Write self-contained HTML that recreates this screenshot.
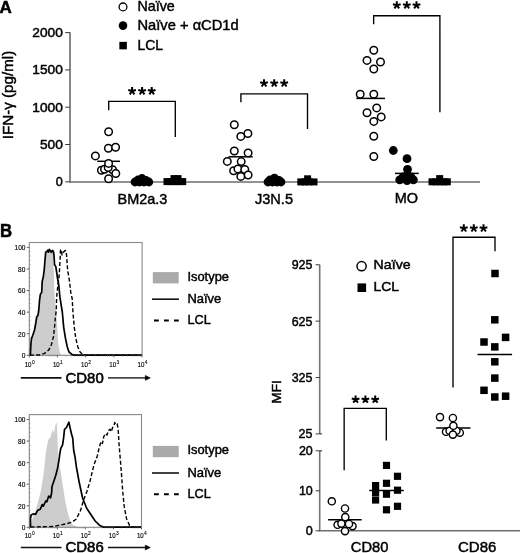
<!DOCTYPE html><html><head><meta charset="utf-8"><style>html,body{margin:0;padding:0;background:#fff;overflow:hidden}svg{display:block}text{font-family:"Liberation Sans",sans-serif;fill:#000;stroke:#000;stroke-width:0.45px}svg{will-change:transform}</style></head><body>
<svg width="520" height="553" viewBox="0 0 520 553">
<text x="-0.5" y="12.7" font-size="17" text-anchor="start" font-weight="bold" style="stroke-width:0.5px">A</text>
<text transform="translate(13.1,139.2) rotate(-90)" font-size="15.2" textLength="88.4" lengthAdjust="spacingAndGlyphs">IFN-γ (pg/ml)</text>
<line x1="70" y1="32.2" x2="70" y2="182.5" stroke="#737373" stroke-width="1.7"/>
<line x1="65.2" y1="32.60000000000002" x2="70" y2="32.60000000000002" stroke="#3a3a3a" stroke-width="1.0"/>
<text x="62.8" y="37.00000000000002" font-size="12.6" text-anchor="end" font-weight="normal" textLength="30.5" lengthAdjust="spacingAndGlyphs">2000</text>
<line x1="65.2" y1="69.9" x2="70" y2="69.9" stroke="#3a3a3a" stroke-width="1.0"/>
<text x="62.8" y="74.30000000000001" font-size="12.6" text-anchor="end" font-weight="normal" textLength="30.5" lengthAdjust="spacingAndGlyphs">1500</text>
<line x1="65.2" y1="107.20000000000002" x2="70" y2="107.20000000000002" stroke="#3a3a3a" stroke-width="1.0"/>
<text x="62.8" y="111.60000000000002" font-size="12.6" text-anchor="end" font-weight="normal" textLength="30.5" lengthAdjust="spacingAndGlyphs">1000</text>
<line x1="65.2" y1="144.5" x2="70" y2="144.5" stroke="#3a3a3a" stroke-width="1.0"/>
<text x="62.8" y="148.9" font-size="12.6" text-anchor="end" font-weight="normal" textLength="22.9" lengthAdjust="spacingAndGlyphs">500</text>
<line x1="65.2" y1="181.8" x2="70" y2="181.8" stroke="#3a3a3a" stroke-width="1.0"/>
<text x="62.8" y="186.20000000000002" font-size="12.6" text-anchor="end" font-weight="normal">0</text>
<line x1="69.1" y1="182" x2="480" y2="182" stroke="#6e6e6e" stroke-width="1.6"/>
<circle cx="123" cy="6.9" r="3.9" fill="#fff" stroke="#000" stroke-width="1.3"/>
<text x="137.5" y="10.8" font-size="14.3" text-anchor="start" font-weight="normal" textLength="37.3" lengthAdjust="spacingAndGlyphs">Naïve</text>
<circle cx="123" cy="25.6" r="4.3" fill="#000"/>
<text x="137.5" y="29.5" font-size="14.3" text-anchor="start" font-weight="normal" textLength="101.2" lengthAdjust="spacingAndGlyphs">Naïve + αCD1d</text>
<rect x="119.35" y="41.85" width="7.5" height="7.5" fill="#000"/>
<text x="137.5" y="49.5" font-size="14.3" text-anchor="start" font-weight="normal" textLength="25.5" lengthAdjust="spacingAndGlyphs">LCL</text>
<polyline points="108.7,110.3 108.7,101.3 175.3,101.3 175.3,136.9" fill="none" stroke="#000" stroke-width="1.35"/>
<path d="M132.10,91.03 L132.10,87.00 M132.10,91.03 L135.95,90.07 M132.10,91.03 L134.47,94.30 M132.10,91.03 L129.73,94.30 M132.10,91.03 L128.25,90.07" stroke="#000" stroke-width="2.0" fill="none"/>
<path d="M142.10,91.03 L142.10,87.00 M142.10,91.03 L145.95,90.07 M142.10,91.03 L144.47,94.30 M142.10,91.03 L139.73,94.30 M142.10,91.03 L138.25,90.07" stroke="#000" stroke-width="2.0" fill="none"/>
<path d="M151.70,91.03 L151.70,87.00 M151.70,91.03 L155.55,90.07 M151.70,91.03 L154.07,94.30 M151.70,91.03 L149.33,94.30 M151.70,91.03 L147.85,90.07" stroke="#000" stroke-width="2.0" fill="none"/>
<polyline points="240.9,102.3 240.9,93.9 307.5,93.9 307.5,129.1" fill="none" stroke="#000" stroke-width="1.35"/>
<path d="M264.00,83.23 L264.00,79.20 M264.00,83.23 L267.85,82.27 M264.00,83.23 L266.37,86.50 M264.00,83.23 L261.63,86.50 M264.00,83.23 L260.15,82.27" stroke="#000" stroke-width="2.0" fill="none"/>
<path d="M274.20,83.23 L274.20,79.20 M274.20,83.23 L278.05,82.27 M274.20,83.23 L276.57,86.50 M274.20,83.23 L271.83,86.50 M274.20,83.23 L270.35,82.27" stroke="#000" stroke-width="2.0" fill="none"/>
<path d="M284.20,83.23 L284.20,79.20 M284.20,83.23 L288.05,82.27 M284.20,83.23 L286.57,86.50 M284.20,83.23 L281.83,86.50 M284.20,83.23 L280.35,82.27" stroke="#000" stroke-width="2.0" fill="none"/>
<polyline points="373.65,24.15 373.65,15.7 439.9,15.7 439.9,112.2" fill="none" stroke="#000" stroke-width="1.35"/>
<path d="M396.80,5.18 L396.80,1.15 M396.80,5.18 L400.65,4.22 M396.80,5.18 L399.17,8.45 M396.80,5.18 L394.43,8.45 M396.80,5.18 L392.95,4.22" stroke="#000" stroke-width="2.0" fill="none"/>
<path d="M406.80,5.18 L406.80,1.15 M406.80,5.18 L410.65,4.22 M406.80,5.18 L409.17,8.45 M406.80,5.18 L404.43,8.45 M406.80,5.18 L402.95,4.22" stroke="#000" stroke-width="2.0" fill="none"/>
<path d="M416.50,5.18 L416.50,1.15 M416.50,5.18 L420.35,4.22 M416.50,5.18 L418.87,8.45 M416.50,5.18 L414.13,8.45 M416.50,5.18 L412.65,4.22" stroke="#000" stroke-width="2.0" fill="none"/>
<line x1="97.2" y1="161.3" x2="120" y2="161.3" stroke="#000" stroke-width="1.5"/>
<circle cx="108.6" cy="131.7" r="3.75" fill="#fff" stroke="#000" stroke-width="1.5"/>
<circle cx="108.4" cy="148.3" r="3.75" fill="#fff" stroke="#000" stroke-width="1.5"/>
<circle cx="115.6" cy="147.2" r="3.75" fill="#fff" stroke="#000" stroke-width="1.5"/>
<circle cx="95.4" cy="155.9" r="3.75" fill="#fff" stroke="#000" stroke-width="1.5"/>
<circle cx="101.4" cy="170.3" r="3.75" fill="#fff" stroke="#000" stroke-width="1.5"/>
<circle cx="104.5" cy="169.2" r="3.75" fill="#fff" stroke="#000" stroke-width="1.5"/>
<circle cx="112.6" cy="169.8" r="3.75" fill="#fff" stroke="#000" stroke-width="1.5"/>
<circle cx="115.8" cy="173.5" r="3.75" fill="#fff" stroke="#000" stroke-width="1.5"/>
<circle cx="108.2" cy="167.6" r="3.75" fill="#fff" stroke="#000" stroke-width="1.5"/>
<circle cx="108.6" cy="178.7" r="3.75" fill="#fff" stroke="#000" stroke-width="1.5"/>
<circle cx="108.6" cy="163.4" r="3.75" fill="#fff" stroke="#000" stroke-width="1.5"/>
<circle cx="135" cy="182" r="4.4" fill="#000"/>
<circle cx="139.5" cy="182" r="4.4" fill="#000"/>
<circle cx="144" cy="182" r="4.4" fill="#000"/>
<circle cx="148.8" cy="182" r="4.4" fill="#000"/>
<circle cx="142" cy="178.5" r="4.4" fill="#000"/>
<circle cx="138" cy="180" r="4.4" fill="#000"/>
<circle cx="146" cy="180.5" r="4.4" fill="#000"/>
<rect x="163.5" y="178.1" width="7" height="7" fill="#000"/>
<rect x="167.5" y="178.1" width="7" height="7" fill="#000"/>
<rect x="171.5" y="178.1" width="7" height="7" fill="#000"/>
<rect x="175.5" y="178.1" width="7" height="7" fill="#000"/>
<rect x="179.2" y="178.1" width="7" height="7" fill="#000"/>
<rect x="170.5" y="175.1" width="7" height="7" fill="#000"/>
<rect x="174.5" y="175.1" width="7" height="7" fill="#000"/>
<line x1="228.5" y1="156.8" x2="252.7" y2="156.8" stroke="#000" stroke-width="1.5"/>
<circle cx="234.3" cy="124.7" r="3.75" fill="#fff" stroke="#000" stroke-width="1.5"/>
<circle cx="247.9" cy="133.5" r="3.75" fill="#fff" stroke="#000" stroke-width="1.5"/>
<circle cx="240.8" cy="136.4" r="3.75" fill="#fff" stroke="#000" stroke-width="1.5"/>
<circle cx="234.3" cy="151" r="3.75" fill="#fff" stroke="#000" stroke-width="1.5"/>
<circle cx="248.1" cy="152.9" r="3.75" fill="#fff" stroke="#000" stroke-width="1.5"/>
<circle cx="227.3" cy="161.4" r="3.75" fill="#fff" stroke="#000" stroke-width="1.5"/>
<circle cx="241.2" cy="161.6" r="3.75" fill="#fff" stroke="#000" stroke-width="1.5"/>
<circle cx="233.6" cy="170.7" r="3.75" fill="#fff" stroke="#000" stroke-width="1.5"/>
<circle cx="237.9" cy="168.9" r="3.75" fill="#fff" stroke="#000" stroke-width="1.5"/>
<circle cx="244.8" cy="169.5" r="3.75" fill="#fff" stroke="#000" stroke-width="1.5"/>
<circle cx="248.1" cy="175" r="3.75" fill="#fff" stroke="#000" stroke-width="1.5"/>
<circle cx="240.8" cy="176.4" r="3.75" fill="#fff" stroke="#000" stroke-width="1.5"/>
<circle cx="268" cy="182" r="4.4" fill="#000"/>
<circle cx="272.5" cy="182" r="4.4" fill="#000"/>
<circle cx="277" cy="182" r="4.4" fill="#000"/>
<circle cx="281" cy="182" r="4.4" fill="#000"/>
<circle cx="274.5" cy="178.2" r="4.4" fill="#000"/>
<circle cx="270" cy="180" r="4.4" fill="#000"/>
<circle cx="279" cy="180.5" r="4.4" fill="#000"/>
<rect x="297.3" y="178.4" width="7" height="7" fill="#000"/>
<rect x="301.5" y="178.4" width="7" height="7" fill="#000"/>
<rect x="305.5" y="178.4" width="7" height="7" fill="#000"/>
<rect x="310.5" y="178.4" width="7" height="7" fill="#000"/>
<rect x="304.1" y="175.3" width="7" height="7" fill="#000"/>
<line x1="356.3" y1="98.4" x2="385" y2="98.4" stroke="#000" stroke-width="1.5"/>
<circle cx="373.8" cy="50.2" r="3.75" fill="#fff" stroke="#000" stroke-width="1.5"/>
<circle cx="367" cy="60.4" r="3.75" fill="#fff" stroke="#000" stroke-width="1.5"/>
<circle cx="380.5" cy="62" r="3.75" fill="#fff" stroke="#000" stroke-width="1.5"/>
<circle cx="373.8" cy="69" r="3.75" fill="#fff" stroke="#000" stroke-width="1.5"/>
<circle cx="360.2" cy="94.3" r="3.75" fill="#fff" stroke="#000" stroke-width="1.5"/>
<circle cx="373.8" cy="94.3" r="3.75" fill="#fff" stroke="#000" stroke-width="1.5"/>
<circle cx="376.7" cy="107.9" r="3.75" fill="#fff" stroke="#000" stroke-width="1.5"/>
<circle cx="367" cy="112.8" r="3.75" fill="#fff" stroke="#000" stroke-width="1.5"/>
<circle cx="381.2" cy="116.9" r="3.75" fill="#fff" stroke="#000" stroke-width="1.5"/>
<circle cx="373.8" cy="121.4" r="3.75" fill="#fff" stroke="#000" stroke-width="1.5"/>
<circle cx="373.8" cy="136.2" r="3.75" fill="#fff" stroke="#000" stroke-width="1.5"/>
<circle cx="373.8" cy="156.5" r="3.75" fill="#fff" stroke="#000" stroke-width="1.5"/>
<circle cx="393.3" cy="150.5" r="4.4" fill="#000"/>
<circle cx="407" cy="158.7" r="4.4" fill="#000"/>
<circle cx="407.5" cy="169.3" r="4.4" fill="#000"/>
<circle cx="399.7" cy="179.8" r="4.4" fill="#000"/>
<circle cx="407" cy="180.7" r="4.4" fill="#000"/>
<circle cx="413.4" cy="179.8" r="4.4" fill="#000"/>
<circle cx="403" cy="177" r="4.4" fill="#000"/>
<circle cx="411" cy="177" r="4.4" fill="#000"/>
<circle cx="407" cy="175.5" r="4.4" fill="#000"/>
<line x1="395" y1="173.4" x2="418.8" y2="173.4" stroke="#000" stroke-width="1.5"/>
<rect x="428.5" y="178.3" width="7" height="7" fill="#000"/>
<rect x="432.5" y="178.3" width="7" height="7" fill="#000"/>
<rect x="436.5" y="178.3" width="7" height="7" fill="#000"/>
<rect x="440.5" y="178.3" width="7" height="7" fill="#000"/>
<rect x="443.8" y="178.3" width="7" height="7" fill="#000"/>
<rect x="436.2" y="175.1" width="7" height="7" fill="#000"/>
<text x="117.5" y="203.7" font-size="14.8" text-anchor="start" font-weight="normal" textLength="49.8" lengthAdjust="spacingAndGlyphs">BM2a.3</text>
<text x="255" y="203.7" font-size="14.8" text-anchor="start" font-weight="normal" textLength="38" lengthAdjust="spacingAndGlyphs">J3N.5</text>
<text x="394.7" y="203.4" font-size="14.8" text-anchor="start" font-weight="normal" textLength="23.3" lengthAdjust="spacingAndGlyphs">MO</text>
<text transform="translate(0,236.6) scale(0.93,1)" font-size="18" font-weight="bold" style="stroke-width:0.5px">B</text>
<path d="M30.5,355.3 L31.2,343 L32.8,336 L34.6,331 L36,324 L37,318 L38.5,315.5 L39.3,310 L40,301 L41,295 L42.3,292.5 L42.7,282 L43.8,276.5 L44.6,270 L45.3,260 L46,253 L47.5,252 L49.4,251 L51,252.5 L53,253 L53.5,256 L53.6,265 L54,278 L54.2,285.4 L54.9,300.8 L56,310 L57.5,330 L58.4,345 L60,353 L61.5,355.3 Z" fill="#cdcdcd" stroke="none"/>
<rect x="29.3" y="242.5" width="112.8" height="112.80000000000001" fill="none" stroke="#888" stroke-width="1.1"/>
<polyline points="30,355.2 32.3,355.1 39.3,355 44.5,353.4 48.8,349.9 51.4,344.7 53.6,336 54.5,327.4 55.3,318.7 56.3,310 56.5,301 57,293 58,285 59.2,275 59.8,265 60.2,256.5 60.5,250 61.3,249.5 62,255 63,253 64.5,251 65.5,250.5 66.3,252 67.7,270.6 69.5,281.2 70.7,291.9 72.2,298.9 73,313.1 74.3,327.3 75.7,337.9 77.8,346.7 80.1,352 82.8,354.7 86,355.2 141.5,355.2" fill="none" stroke="#000" stroke-width="1.4" stroke-dasharray="4,2.2" stroke-linejoin="round"/>
<polyline points="30.4,355.2 30.6,350 31,343 31.5,338.6 32.8,335.2 34.5,330 35.8,323 36.7,317 38,315.2 38.8,310 39.5,300.8 40.3,294.6 41.7,292.3 42.2,281.5 43.4,276.2 44.2,270 45,260 45.7,252 46.7,251.7 47.7,250.2 48.4,252.1 49.4,249.4 50.4,251.1 51.4,252.4 52.4,250.4 53.5,251.7 54.1,256.5 54.5,264.5 55.8,266.6 56.5,271.3 57.5,278 58.8,285.4 59.9,296.9 61.1,304.6 62.3,312 63.7,327.3 65.4,337.9 67.2,346.7 69,352 72.2,354.7 75.7,355.2 141.5,355.2" fill="none" stroke="#000" stroke-width="1.7" stroke-linejoin="round"/>
<line x1="26.8" y1="247.4" x2="29.3" y2="247.4" stroke="#555" stroke-width="0.9"/>
<text x="25.400000000000002" y="250.3" font-size="6.6" text-anchor="end" font-weight="normal" textLength="10.9" lengthAdjust="spacingAndGlyphs" style="stroke-width:0.15px">100</text>
<line x1="26.8" y1="268.98" x2="29.3" y2="268.98" stroke="#555" stroke-width="0.9"/>
<text x="25.400000000000002" y="271.88" font-size="6.6" text-anchor="end" font-weight="normal" textLength="7.3" lengthAdjust="spacingAndGlyphs" style="stroke-width:0.15px">80</text>
<line x1="26.8" y1="290.56" x2="29.3" y2="290.56" stroke="#555" stroke-width="0.9"/>
<text x="25.400000000000002" y="293.46" font-size="6.6" text-anchor="end" font-weight="normal" textLength="7.3" lengthAdjust="spacingAndGlyphs" style="stroke-width:0.15px">60</text>
<line x1="26.8" y1="312.14" x2="29.3" y2="312.14" stroke="#555" stroke-width="0.9"/>
<text x="25.400000000000002" y="315.03999999999996" font-size="6.6" text-anchor="end" font-weight="normal" textLength="7.3" lengthAdjust="spacingAndGlyphs" style="stroke-width:0.15px">40</text>
<line x1="26.8" y1="333.72" x2="29.3" y2="333.72" stroke="#555" stroke-width="0.9"/>
<text x="25.400000000000002" y="336.62" font-size="6.6" text-anchor="end" font-weight="normal" textLength="7.3" lengthAdjust="spacingAndGlyphs" style="stroke-width:0.15px">20</text>
<line x1="26.8" y1="355.3" x2="29.3" y2="355.3" stroke="#555" stroke-width="0.9"/>
<text x="25.400000000000002" y="358.2" font-size="6.6" text-anchor="end" font-weight="normal" style="stroke-width:0.15px">0</text>
<line x1="29.3" y1="251.716" x2="30.5" y2="251.716" stroke="#777" stroke-width="0.7"/>
<line x1="29.3" y1="256.032" x2="30.5" y2="256.032" stroke="#777" stroke-width="0.7"/>
<line x1="29.3" y1="260.348" x2="30.5" y2="260.348" stroke="#777" stroke-width="0.7"/>
<line x1="29.3" y1="264.664" x2="30.5" y2="264.664" stroke="#777" stroke-width="0.7"/>
<line x1="29.3" y1="273.296" x2="30.5" y2="273.296" stroke="#777" stroke-width="0.7"/>
<line x1="29.3" y1="277.612" x2="30.5" y2="277.612" stroke="#777" stroke-width="0.7"/>
<line x1="29.3" y1="281.928" x2="30.5" y2="281.928" stroke="#777" stroke-width="0.7"/>
<line x1="29.3" y1="286.244" x2="30.5" y2="286.244" stroke="#777" stroke-width="0.7"/>
<line x1="29.3" y1="294.87600000000003" x2="30.5" y2="294.87600000000003" stroke="#777" stroke-width="0.7"/>
<line x1="29.3" y1="299.192" x2="30.5" y2="299.192" stroke="#777" stroke-width="0.7"/>
<line x1="29.3" y1="303.50800000000004" x2="30.5" y2="303.50800000000004" stroke="#777" stroke-width="0.7"/>
<line x1="29.3" y1="307.824" x2="30.5" y2="307.824" stroke="#777" stroke-width="0.7"/>
<line x1="29.3" y1="316.456" x2="30.5" y2="316.456" stroke="#777" stroke-width="0.7"/>
<line x1="29.3" y1="320.772" x2="30.5" y2="320.772" stroke="#777" stroke-width="0.7"/>
<line x1="29.3" y1="325.088" x2="30.5" y2="325.088" stroke="#777" stroke-width="0.7"/>
<line x1="29.3" y1="329.404" x2="30.5" y2="329.404" stroke="#777" stroke-width="0.7"/>
<line x1="29.3" y1="338.036" x2="30.5" y2="338.036" stroke="#777" stroke-width="0.7"/>
<line x1="29.3" y1="342.35200000000003" x2="30.5" y2="342.35200000000003" stroke="#777" stroke-width="0.7"/>
<line x1="29.3" y1="346.668" x2="30.5" y2="346.668" stroke="#777" stroke-width="0.7"/>
<line x1="29.3" y1="350.98400000000004" x2="30.5" y2="350.98400000000004" stroke="#777" stroke-width="0.7"/>
<line x1="29.3" y1="355.3" x2="29.3" y2="357.3" stroke="#555" stroke-width="0.9"/>
<text x="24.700000000000003" y="366.6" font-size="6.9" textLength="6.8" lengthAdjust="spacingAndGlyphs" style="stroke-width:0.15px">10</text>
<text x="31.900000000000002" y="363.6" font-size="4.9" style="stroke-width:0.1px">0</text>
<line x1="37.78904587772427" y1="355.3" x2="37.78904587772427" y2="356.5" stroke="#777" stroke-width="0.6"/>
<line x1="42.754819383094485" y1="355.3" x2="42.754819383094485" y2="356.5" stroke="#777" stroke-width="0.6"/>
<line x1="46.27809175544854" y1="355.3" x2="46.27809175544854" y2="356.5" stroke="#777" stroke-width="0.6"/>
<line x1="49.010954122275734" y1="355.3" x2="49.010954122275734" y2="356.5" stroke="#777" stroke-width="0.6"/>
<line x1="51.24386526081875" y1="355.3" x2="51.24386526081875" y2="356.5" stroke="#777" stroke-width="0.6"/>
<line x1="53.13176472840205" y1="355.3" x2="53.13176472840205" y2="356.5" stroke="#777" stroke-width="0.6"/>
<line x1="54.76713763317281" y1="355.3" x2="54.76713763317281" y2="356.5" stroke="#777" stroke-width="0.6"/>
<line x1="56.20963876618896" y1="355.3" x2="56.20963876618896" y2="356.5" stroke="#777" stroke-width="0.6"/>
<line x1="57.5" y1="355.3" x2="57.5" y2="357.3" stroke="#555" stroke-width="0.9"/>
<text x="52.9" y="366.6" font-size="6.9" textLength="6.8" lengthAdjust="spacingAndGlyphs" style="stroke-width:0.15px">10</text>
<text x="60.1" y="363.6" font-size="4.9" style="stroke-width:0.1px">1</text>
<line x1="65.98904587772427" y1="355.3" x2="65.98904587772427" y2="356.5" stroke="#777" stroke-width="0.6"/>
<line x1="70.95481938309447" y1="355.3" x2="70.95481938309447" y2="356.5" stroke="#777" stroke-width="0.6"/>
<line x1="74.47809175544853" y1="355.3" x2="74.47809175544853" y2="356.5" stroke="#777" stroke-width="0.6"/>
<line x1="77.21095412227572" y1="355.3" x2="77.21095412227572" y2="356.5" stroke="#777" stroke-width="0.6"/>
<line x1="79.44386526081875" y1="355.3" x2="79.44386526081875" y2="356.5" stroke="#777" stroke-width="0.6"/>
<line x1="81.33176472840205" y1="355.3" x2="81.33176472840205" y2="356.5" stroke="#777" stroke-width="0.6"/>
<line x1="82.96713763317281" y1="355.3" x2="82.96713763317281" y2="356.5" stroke="#777" stroke-width="0.6"/>
<line x1="84.40963876618896" y1="355.3" x2="84.40963876618896" y2="356.5" stroke="#777" stroke-width="0.6"/>
<line x1="85.7" y1="355.3" x2="85.7" y2="357.3" stroke="#555" stroke-width="0.9"/>
<text x="81.10000000000001" y="366.6" font-size="6.9" textLength="6.8" lengthAdjust="spacingAndGlyphs" style="stroke-width:0.15px">10</text>
<text x="88.3" y="363.6" font-size="4.9" style="stroke-width:0.1px">2</text>
<line x1="94.18904587772427" y1="355.3" x2="94.18904587772427" y2="356.5" stroke="#777" stroke-width="0.6"/>
<line x1="99.15481938309449" y1="355.3" x2="99.15481938309449" y2="356.5" stroke="#777" stroke-width="0.6"/>
<line x1="102.67809175544855" y1="355.3" x2="102.67809175544855" y2="356.5" stroke="#777" stroke-width="0.6"/>
<line x1="105.41095412227574" y1="355.3" x2="105.41095412227574" y2="356.5" stroke="#777" stroke-width="0.6"/>
<line x1="107.64386526081876" y1="355.3" x2="107.64386526081876" y2="356.5" stroke="#777" stroke-width="0.6"/>
<line x1="109.53176472840204" y1="355.3" x2="109.53176472840204" y2="356.5" stroke="#777" stroke-width="0.6"/>
<line x1="111.16713763317281" y1="355.3" x2="111.16713763317281" y2="356.5" stroke="#777" stroke-width="0.6"/>
<line x1="112.60963876618897" y1="355.3" x2="112.60963876618897" y2="356.5" stroke="#777" stroke-width="0.6"/>
<line x1="113.89999999999999" y1="355.3" x2="113.89999999999999" y2="357.3" stroke="#555" stroke-width="0.9"/>
<text x="109.3" y="366.6" font-size="6.9" textLength="6.8" lengthAdjust="spacingAndGlyphs" style="stroke-width:0.15px">10</text>
<text x="116.49999999999999" y="363.6" font-size="4.9" style="stroke-width:0.1px">3</text>
<line x1="122.38904587772426" y1="355.3" x2="122.38904587772426" y2="356.5" stroke="#777" stroke-width="0.6"/>
<line x1="127.35481938309448" y1="355.3" x2="127.35481938309448" y2="356.5" stroke="#777" stroke-width="0.6"/>
<line x1="130.87809175544854" y1="355.3" x2="130.87809175544854" y2="356.5" stroke="#777" stroke-width="0.6"/>
<line x1="133.61095412227573" y1="355.3" x2="133.61095412227573" y2="356.5" stroke="#777" stroke-width="0.6"/>
<line x1="135.84386526081875" y1="355.3" x2="135.84386526081875" y2="356.5" stroke="#777" stroke-width="0.6"/>
<line x1="137.73176472840203" y1="355.3" x2="137.73176472840203" y2="356.5" stroke="#777" stroke-width="0.6"/>
<line x1="139.3671376331728" y1="355.3" x2="139.3671376331728" y2="356.5" stroke="#777" stroke-width="0.6"/>
<line x1="140.80963876618895" y1="355.3" x2="140.80963876618895" y2="356.5" stroke="#777" stroke-width="0.6"/>
<line x1="142.1" y1="355.3" x2="142.1" y2="357.3" stroke="#555" stroke-width="0.9"/>
<text x="137.5" y="366.6" font-size="6.9" textLength="6.8" lengthAdjust="spacingAndGlyphs" style="stroke-width:0.15px">10</text>
<text x="144.7" y="363.6" font-size="4.9" style="stroke-width:0.1px">4</text>
<line x1="20.8" y1="377.9" x2="61.5" y2="377.9" stroke="#111" stroke-width="1.6"/>
<text x="65.5" y="382.59999999999997" font-size="14.5" text-anchor="start" font-weight="normal" textLength="38.2" lengthAdjust="spacingAndGlyphs" style="stroke-width:0.55px">CD80</text>
<line x1="108" y1="377.9" x2="147" y2="377.9" stroke="#4a4a4a" stroke-width="1.8"/>
<path d="M150.3,377.9 L145.3,375.5 L145.3,380.29999999999995 Z" fill="#000" stroke="#000" stroke-width="0.6" stroke-linejoin="round"/>
<rect x="152.8" y="272.1" width="25.9" height="11.3" fill="#aaa"/>
<text x="187.4" y="280.5" font-size="13" text-anchor="start" font-weight="normal" textLength="41.6" lengthAdjust="spacingAndGlyphs">Isotype</text>
<line x1="152" y1="299.20000000000005" x2="178.9" y2="299.20000000000005" stroke="#111" stroke-width="1.6"/>
<text x="187.4" y="302.90000000000003" font-size="13" text-anchor="start" font-weight="normal" textLength="33.8" lengthAdjust="spacingAndGlyphs">Naïve</text>
<line x1="154" y1="320.40000000000003" x2="178.8" y2="320.40000000000003" stroke="#000" stroke-width="2.0" stroke-dasharray="4.8,5.2"/>
<text x="187.4" y="323.70000000000005" font-size="13" text-anchor="start" font-weight="normal" textLength="23.4" lengthAdjust="spacingAndGlyphs">LCL</text>
<path d="M30.5,527.3 L31.2,523.3 L33.1,517 L35.6,510.6 L38.1,501.8 L40.7,491.6 L43.2,476.5 L45.1,460 L45.8,452.5 L48.2,440 L50.6,437 L52.5,429.4 L54,433.2 L55.9,422.7 L56.8,423.6 L57.3,433.2 L57.8,447.7 L58.3,460 L60.9,472.7 L62.8,485.3 L64.7,498 L67.2,510.6 L69.8,519.5 L72.3,524.6 L76.1,526.5 L80,527.3 Z" fill="#cdcdcd" stroke="none"/>
<rect x="29.3" y="414.6" width="112.2" height="112.69999999999993" fill="none" stroke="#888" stroke-width="1.1"/>
<polyline points="30.5,527 53.3,526.5 59.6,525.2 66,523.9 72.3,522 76.3,519 80.5,510.6 83.6,500 86.8,491.7 90,481.2 92,472.8 94.1,464.4 97.3,456 99,448.5 101,441.5 102.4,443.5 103.8,436.5 105.5,433.5 107,435 108.5,430.5 110,429.2 111.3,431.8 112.6,427.5 114,425.5 114.8,422.5 116,424.5 117.2,423.8 118.2,430 119.1,445 120.4,460.4 121.6,475.7 122.7,491.1 124.2,506.4 126.5,518.7 129.6,525.6 133,527.1 141,527.1" fill="none" stroke="#000" stroke-width="1.4" stroke-dasharray="4,2.2" stroke-linejoin="round"/>
<polyline points="30.5,527.2 30.5,518.2 31.2,515 33.7,513.8 35.6,514.4 37.5,510.6 39.4,509.6 40.3,509.2 42.2,504.6 43.3,506.2 45.8,501 46.9,501.8 48.7,496 50.5,497.8 51.6,493 52,486.5 53.3,482.8 55.8,475.2 57.7,467.6 59,460 59.7,454.4 60.7,448.6 62.6,444.8 63.6,438 64.5,429.4 66.5,427.5 67.4,425.5 68.9,422.2 69.8,426.5 71.3,433.2 72.7,438 73.7,450.5 75.1,457.3 76.3,466.5 79.4,483.3 82.6,498 86.8,508.5 91,514.8 95.2,521 99.4,525.2 103.6,527.2 141,527.2" fill="none" stroke="#000" stroke-width="1.7" stroke-linejoin="round"/>
<line x1="26.8" y1="419.5" x2="29.3" y2="419.5" stroke="#555" stroke-width="0.9"/>
<text x="25.400000000000002" y="422.4" font-size="6.6" text-anchor="end" font-weight="normal" textLength="10.9" lengthAdjust="spacingAndGlyphs" style="stroke-width:0.15px">100</text>
<line x1="26.8" y1="441.06" x2="29.3" y2="441.06" stroke="#555" stroke-width="0.9"/>
<text x="25.400000000000002" y="443.96" font-size="6.6" text-anchor="end" font-weight="normal" textLength="7.3" lengthAdjust="spacingAndGlyphs" style="stroke-width:0.15px">80</text>
<line x1="26.8" y1="462.61999999999995" x2="29.3" y2="462.61999999999995" stroke="#555" stroke-width="0.9"/>
<text x="25.400000000000002" y="465.5199999999999" font-size="6.6" text-anchor="end" font-weight="normal" textLength="7.3" lengthAdjust="spacingAndGlyphs" style="stroke-width:0.15px">60</text>
<line x1="26.8" y1="484.17999999999995" x2="29.3" y2="484.17999999999995" stroke="#555" stroke-width="0.9"/>
<text x="25.400000000000002" y="487.0799999999999" font-size="6.6" text-anchor="end" font-weight="normal" textLength="7.3" lengthAdjust="spacingAndGlyphs" style="stroke-width:0.15px">40</text>
<line x1="26.8" y1="505.73999999999995" x2="29.3" y2="505.73999999999995" stroke="#555" stroke-width="0.9"/>
<text x="25.400000000000002" y="508.63999999999993" font-size="6.6" text-anchor="end" font-weight="normal" textLength="7.3" lengthAdjust="spacingAndGlyphs" style="stroke-width:0.15px">20</text>
<line x1="26.8" y1="527.3" x2="29.3" y2="527.3" stroke="#555" stroke-width="0.9"/>
<text x="25.400000000000002" y="530.1999999999999" font-size="6.6" text-anchor="end" font-weight="normal" style="stroke-width:0.15px">0</text>
<line x1="29.3" y1="423.812" x2="30.5" y2="423.812" stroke="#777" stroke-width="0.7"/>
<line x1="29.3" y1="428.12399999999997" x2="30.5" y2="428.12399999999997" stroke="#777" stroke-width="0.7"/>
<line x1="29.3" y1="432.436" x2="30.5" y2="432.436" stroke="#777" stroke-width="0.7"/>
<line x1="29.3" y1="436.748" x2="30.5" y2="436.748" stroke="#777" stroke-width="0.7"/>
<line x1="29.3" y1="445.37199999999996" x2="30.5" y2="445.37199999999996" stroke="#777" stroke-width="0.7"/>
<line x1="29.3" y1="449.68399999999997" x2="30.5" y2="449.68399999999997" stroke="#777" stroke-width="0.7"/>
<line x1="29.3" y1="453.996" x2="30.5" y2="453.996" stroke="#777" stroke-width="0.7"/>
<line x1="29.3" y1="458.308" x2="30.5" y2="458.308" stroke="#777" stroke-width="0.7"/>
<line x1="29.3" y1="466.93199999999996" x2="30.5" y2="466.93199999999996" stroke="#777" stroke-width="0.7"/>
<line x1="29.3" y1="471.24399999999997" x2="30.5" y2="471.24399999999997" stroke="#777" stroke-width="0.7"/>
<line x1="29.3" y1="475.556" x2="30.5" y2="475.556" stroke="#777" stroke-width="0.7"/>
<line x1="29.3" y1="479.86799999999994" x2="30.5" y2="479.86799999999994" stroke="#777" stroke-width="0.7"/>
<line x1="29.3" y1="488.49199999999996" x2="30.5" y2="488.49199999999996" stroke="#777" stroke-width="0.7"/>
<line x1="29.3" y1="492.804" x2="30.5" y2="492.804" stroke="#777" stroke-width="0.7"/>
<line x1="29.3" y1="497.11599999999993" x2="30.5" y2="497.11599999999993" stroke="#777" stroke-width="0.7"/>
<line x1="29.3" y1="501.42799999999994" x2="30.5" y2="501.42799999999994" stroke="#777" stroke-width="0.7"/>
<line x1="29.3" y1="510.0519999999999" x2="30.5" y2="510.0519999999999" stroke="#777" stroke-width="0.7"/>
<line x1="29.3" y1="514.3639999999999" x2="30.5" y2="514.3639999999999" stroke="#777" stroke-width="0.7"/>
<line x1="29.3" y1="518.6759999999999" x2="30.5" y2="518.6759999999999" stroke="#777" stroke-width="0.7"/>
<line x1="29.3" y1="522.9879999999999" x2="30.5" y2="522.9879999999999" stroke="#777" stroke-width="0.7"/>
<line x1="29.3" y1="527.3" x2="29.3" y2="529.3" stroke="#555" stroke-width="0.9"/>
<text x="24.700000000000003" y="538.1" font-size="6.9" textLength="6.8" lengthAdjust="spacingAndGlyphs" style="stroke-width:0.15px">10</text>
<text x="31.900000000000002" y="535.1" font-size="4.9" style="stroke-width:0.1px">0</text>
<line x1="37.74389137837467" y1="527.3" x2="37.74389137837467" y2="528.5" stroke="#777" stroke-width="0.6"/>
<line x1="42.68325119488653" y1="527.3" x2="42.68325119488653" y2="528.5" stroke="#777" stroke-width="0.6"/>
<line x1="46.18778275674934" y1="527.3" x2="46.18778275674934" y2="528.5" stroke="#777" stroke-width="0.6"/>
<line x1="48.90610862162533" y1="527.3" x2="48.90610862162533" y2="528.5" stroke="#777" stroke-width="0.6"/>
<line x1="51.12714257326121" y1="527.3" x2="51.12714257326121" y2="528.5" stroke="#777" stroke-width="0.6"/>
<line x1="53.005000022399905" y1="527.3" x2="53.005000022399905" y2="528.5" stroke="#777" stroke-width="0.6"/>
<line x1="54.631674135124015" y1="527.3" x2="54.631674135124015" y2="528.5" stroke="#777" stroke-width="0.6"/>
<line x1="56.06650238977306" y1="527.3" x2="56.06650238977306" y2="528.5" stroke="#777" stroke-width="0.6"/>
<line x1="57.35" y1="527.3" x2="57.35" y2="529.3" stroke="#555" stroke-width="0.9"/>
<text x="52.75" y="538.1" font-size="6.9" textLength="6.8" lengthAdjust="spacingAndGlyphs" style="stroke-width:0.15px">10</text>
<text x="59.95" y="535.1" font-size="4.9" style="stroke-width:0.1px">1</text>
<line x1="65.79389137837467" y1="527.3" x2="65.79389137837467" y2="528.5" stroke="#777" stroke-width="0.6"/>
<line x1="70.73325119488653" y1="527.3" x2="70.73325119488653" y2="528.5" stroke="#777" stroke-width="0.6"/>
<line x1="74.23778275674934" y1="527.3" x2="74.23778275674934" y2="528.5" stroke="#777" stroke-width="0.6"/>
<line x1="76.95610862162533" y1="527.3" x2="76.95610862162533" y2="528.5" stroke="#777" stroke-width="0.6"/>
<line x1="79.17714257326121" y1="527.3" x2="79.17714257326121" y2="528.5" stroke="#777" stroke-width="0.6"/>
<line x1="81.05500002239991" y1="527.3" x2="81.05500002239991" y2="528.5" stroke="#777" stroke-width="0.6"/>
<line x1="82.68167413512401" y1="527.3" x2="82.68167413512401" y2="528.5" stroke="#777" stroke-width="0.6"/>
<line x1="84.11650238977306" y1="527.3" x2="84.11650238977306" y2="528.5" stroke="#777" stroke-width="0.6"/>
<line x1="85.4" y1="527.3" x2="85.4" y2="529.3" stroke="#555" stroke-width="0.9"/>
<text x="80.80000000000001" y="538.1" font-size="6.9" textLength="6.8" lengthAdjust="spacingAndGlyphs" style="stroke-width:0.15px">10</text>
<text x="88.0" y="535.1" font-size="4.9" style="stroke-width:0.1px">2</text>
<line x1="93.84389137837468" y1="527.3" x2="93.84389137837468" y2="528.5" stroke="#777" stroke-width="0.6"/>
<line x1="98.78325119488653" y1="527.3" x2="98.78325119488653" y2="528.5" stroke="#777" stroke-width="0.6"/>
<line x1="102.28778275674935" y1="527.3" x2="102.28778275674935" y2="528.5" stroke="#777" stroke-width="0.6"/>
<line x1="105.00610862162533" y1="527.3" x2="105.00610862162533" y2="528.5" stroke="#777" stroke-width="0.6"/>
<line x1="107.2271425732612" y1="527.3" x2="107.2271425732612" y2="528.5" stroke="#777" stroke-width="0.6"/>
<line x1="109.1050000223999" y1="527.3" x2="109.1050000223999" y2="528.5" stroke="#777" stroke-width="0.6"/>
<line x1="110.73167413512402" y1="527.3" x2="110.73167413512402" y2="528.5" stroke="#777" stroke-width="0.6"/>
<line x1="112.16650238977307" y1="527.3" x2="112.16650238977307" y2="528.5" stroke="#777" stroke-width="0.6"/>
<line x1="113.45" y1="527.3" x2="113.45" y2="529.3" stroke="#555" stroke-width="0.9"/>
<text x="108.85000000000001" y="538.1" font-size="6.9" textLength="6.8" lengthAdjust="spacingAndGlyphs" style="stroke-width:0.15px">10</text>
<text x="116.05" y="535.1" font-size="4.9" style="stroke-width:0.1px">3</text>
<line x1="121.89389137837468" y1="527.3" x2="121.89389137837468" y2="528.5" stroke="#777" stroke-width="0.6"/>
<line x1="126.83325119488653" y1="527.3" x2="126.83325119488653" y2="528.5" stroke="#777" stroke-width="0.6"/>
<line x1="130.33778275674933" y1="527.3" x2="130.33778275674933" y2="528.5" stroke="#777" stroke-width="0.6"/>
<line x1="133.05610862162533" y1="527.3" x2="133.05610862162533" y2="528.5" stroke="#777" stroke-width="0.6"/>
<line x1="135.27714257326122" y1="527.3" x2="135.27714257326122" y2="528.5" stroke="#777" stroke-width="0.6"/>
<line x1="137.15500002239992" y1="527.3" x2="137.15500002239992" y2="528.5" stroke="#777" stroke-width="0.6"/>
<line x1="138.78167413512404" y1="527.3" x2="138.78167413512404" y2="528.5" stroke="#777" stroke-width="0.6"/>
<line x1="140.21650238977307" y1="527.3" x2="140.21650238977307" y2="528.5" stroke="#777" stroke-width="0.6"/>
<line x1="141.5" y1="527.3" x2="141.5" y2="529.3" stroke="#555" stroke-width="0.9"/>
<text x="136.9" y="538.1" font-size="6.9" textLength="6.8" lengthAdjust="spacingAndGlyphs" style="stroke-width:0.15px">10</text>
<text x="144.1" y="535.1" font-size="4.9" style="stroke-width:0.1px">4</text>
<line x1="20.8" y1="547.5" x2="61.5" y2="547.5" stroke="#111" stroke-width="1.3"/>
<text x="65.5" y="552.2" font-size="14.5" text-anchor="start" font-weight="normal" textLength="38.2" lengthAdjust="spacingAndGlyphs" style="stroke-width:0.55px">CD86</text>
<line x1="108" y1="547.5" x2="147" y2="547.5" stroke="#111" stroke-width="1.3"/>
<path d="M150.3,547.5 L145.3,545.1 L145.3,549.9 Z" fill="#000" stroke="#000" stroke-width="0.6" stroke-linejoin="round"/>
<rect x="152.8" y="445.9" width="25.9" height="11.3" fill="#aaa"/>
<text x="187.4" y="454.29999999999995" font-size="13" text-anchor="start" font-weight="normal" textLength="41.6" lengthAdjust="spacingAndGlyphs">Isotype</text>
<line x1="152" y1="473.0" x2="178.9" y2="473.0" stroke="#111" stroke-width="1.6"/>
<text x="187.4" y="476.7" font-size="13" text-anchor="start" font-weight="normal" textLength="33.8" lengthAdjust="spacingAndGlyphs">Naïve</text>
<line x1="154" y1="494.2" x2="178.8" y2="494.2" stroke="#000" stroke-width="2.0" stroke-dasharray="4.8,5.2"/>
<text x="187.4" y="497.5" font-size="13" text-anchor="start" font-weight="normal" textLength="23.4" lengthAdjust="spacingAndGlyphs">LCL</text>
<line x1="319.7" y1="264.75" x2="319.7" y2="433.9" stroke="#737373" stroke-width="1.6"/>
<line x1="319.7" y1="450.8" x2="319.7" y2="530.8" stroke="#737373" stroke-width="1.6"/>
<line x1="318.9" y1="530.8" x2="520" y2="530.8" stroke="#6e6e6e" stroke-width="1.6"/>
<line x1="315.6" y1="264.75" x2="319.7" y2="264.75" stroke="#3a3a3a" stroke-width="1.0"/>
<text x="312.5" y="269.15" font-size="12.6" text-anchor="end" font-weight="normal" textLength="20.8" lengthAdjust="spacingAndGlyphs">925</text>
<line x1="315.6" y1="321.1333333333333" x2="319.7" y2="321.1333333333333" stroke="#3a3a3a" stroke-width="1.0"/>
<text x="312.5" y="325.5333333333333" font-size="12.6" text-anchor="end" font-weight="normal" textLength="20.8" lengthAdjust="spacingAndGlyphs">625</text>
<line x1="315.6" y1="377.51666666666665" x2="319.7" y2="377.51666666666665" stroke="#3a3a3a" stroke-width="1.0"/>
<text x="312.5" y="381.91666666666663" font-size="12.6" text-anchor="end" font-weight="normal" textLength="20.8" lengthAdjust="spacingAndGlyphs">325</text>
<line x1="315.6" y1="433.9" x2="319.7" y2="433.9" stroke="#3a3a3a" stroke-width="1.0"/>
<text x="312.5" y="438.29999999999995" font-size="12.6" text-anchor="end" font-weight="normal" textLength="13.9" lengthAdjust="spacingAndGlyphs">25</text>
<line x1="319.7" y1="433.9" x2="322.1" y2="433.9" stroke="#333" stroke-width="1.1"/>
<line x1="315.6" y1="450.79999999999995" x2="319.7" y2="450.79999999999995" stroke="#3a3a3a" stroke-width="1.0"/>
<text x="312.8" y="455.19999999999993" font-size="12.6" text-anchor="end" font-weight="normal" textLength="13.9" lengthAdjust="spacingAndGlyphs">20</text>
<line x1="315.6" y1="490.79999999999995" x2="319.7" y2="490.79999999999995" stroke="#3a3a3a" stroke-width="1.0"/>
<text x="312.8" y="495.19999999999993" font-size="12.6" text-anchor="end" font-weight="normal" textLength="13.9" lengthAdjust="spacingAndGlyphs">10</text>
<line x1="315.6" y1="530.8" x2="319.7" y2="530.8" stroke="#3a3a3a" stroke-width="1.0"/>
<text x="312.8" y="535.1999999999999" font-size="12.6" text-anchor="end" font-weight="normal">0</text>
<line x1="319.7" y1="450.8" x2="322.1" y2="450.8" stroke="#333" stroke-width="1.1"/>
<text transform="translate(280.8,403.4) rotate(-90)" font-size="13" textLength="23.2" lengthAdjust="spacingAndGlyphs">MFI</text>
<circle cx="361.6" cy="266.2" r="4.6" fill="#fff" stroke="#000" stroke-width="1.5"/>
<text x="373.6" y="268.8" font-size="12.6" text-anchor="start" font-weight="normal" textLength="37" lengthAdjust="spacingAndGlyphs">Naïve</text>
<rect x="357.5" y="283.4" width="8.6" height="8.6" fill="#000"/>
<text x="373.6" y="290.6" font-size="12.6" text-anchor="start" font-weight="normal" textLength="25.5" lengthAdjust="spacingAndGlyphs">LCL</text>
<polyline points="344.15,470.3 344.15,408.3 386.3,408.3 386.3,440.5" fill="none" stroke="#000" stroke-width="1.35"/>
<path d="M355.60,399.43 L355.60,395.40 M355.60,399.43 L359.45,398.47 M355.60,399.43 L357.97,402.70 M355.60,399.43 L353.23,402.70 M355.60,399.43 L351.75,398.47" stroke="#000" stroke-width="2.0" fill="none"/>
<path d="M365.40,399.43 L365.40,395.40 M365.40,399.43 L369.25,398.47 M365.40,399.43 L367.77,402.70 M365.40,399.43 L363.03,402.70 M365.40,399.43 L361.55,398.47" stroke="#000" stroke-width="2.0" fill="none"/>
<path d="M375.20,399.43 L375.20,395.40 M375.20,399.43 L379.05,398.47 M375.20,399.43 L377.57,402.70 M375.20,399.43 L372.83,402.70 M375.20,399.43 L371.35,398.47" stroke="#000" stroke-width="2.0" fill="none"/>
<polyline points="453,387.6 453,237.2 495,237.2 495,251.3" fill="none" stroke="#000" stroke-width="1.35"/>
<path d="M463.80,228.23 L463.80,224.20 M463.80,228.23 L467.65,227.27 M463.80,228.23 L466.17,231.50 M463.80,228.23 L461.43,231.50 M463.80,228.23 L459.95,227.27" stroke="#000" stroke-width="2.0" fill="none"/>
<path d="M473.80,228.23 L473.80,224.20 M473.80,228.23 L477.65,227.27 M473.80,228.23 L476.17,231.50 M473.80,228.23 L471.43,231.50 M473.80,228.23 L469.95,227.27" stroke="#000" stroke-width="2.0" fill="none"/>
<path d="M483.50,228.23 L483.50,224.20 M483.50,228.23 L487.35,227.27 M483.50,228.23 L485.87,231.50 M483.50,228.23 L481.13,231.50 M483.50,228.23 L479.65,227.27" stroke="#000" stroke-width="2.0" fill="none"/>
<line x1="328.1" y1="519.8" x2="361.7" y2="519.8" stroke="#000" stroke-width="1.5"/>
<circle cx="331.8" cy="501.3" r="3.6" fill="#fff" stroke="#000" stroke-width="1.4"/>
<circle cx="345" cy="508.5" r="3.6" fill="#fff" stroke="#000" stroke-width="1.4"/>
<circle cx="337.6" cy="524.8" r="3.6" fill="#fff" stroke="#000" stroke-width="1.4"/>
<circle cx="352.5" cy="526.1" r="3.6" fill="#fff" stroke="#000" stroke-width="1.4"/>
<circle cx="341.4" cy="523.6" r="3.6" fill="#fff" stroke="#000" stroke-width="1.4"/>
<circle cx="349" cy="524" r="3.6" fill="#fff" stroke="#000" stroke-width="1.4"/>
<circle cx="345" cy="531.1" r="3.6" fill="#fff" stroke="#000" stroke-width="1.4"/>
<circle cx="345.3" cy="517.1" r="3.6" fill="#fff" stroke="#000" stroke-width="1.4"/>
<rect x="382.9" y="461.79999999999995" width="7.2" height="7.2" fill="#000"/>
<rect x="393.9" y="472.7" width="7.2" height="7.2" fill="#000"/>
<rect x="382.9" y="479.7" width="7.2" height="7.2" fill="#000"/>
<rect x="372.0" y="482.0" width="7.2" height="7.2" fill="#000"/>
<rect x="372.0" y="488.9" width="7.2" height="7.2" fill="#000"/>
<rect x="372.0" y="496.4" width="7.2" height="7.2" fill="#000"/>
<rect x="382.9" y="490.59999999999997" width="7.2" height="7.2" fill="#000"/>
<rect x="393.9" y="486.59999999999997" width="7.2" height="7.2" fill="#000"/>
<rect x="393.9" y="502.7" width="7.2" height="7.2" fill="#000"/>
<rect x="382.9" y="506.2" width="7.2" height="7.2" fill="#000"/>
<line x1="369.2" y1="490.5" x2="403.8" y2="490.5" stroke="#000" stroke-width="1.5"/>
<line x1="436.2" y1="427.9" x2="470.5" y2="427.9" stroke="#000" stroke-width="1.5"/>
<circle cx="440" cy="417.1" r="3.6" fill="#fff" stroke="#000" stroke-width="1.4"/>
<circle cx="452.9" cy="418" r="3.6" fill="#fff" stroke="#000" stroke-width="1.4"/>
<circle cx="446" cy="431.8" r="3.6" fill="#fff" stroke="#000" stroke-width="1.4"/>
<circle cx="459.8" cy="432.7" r="3.6" fill="#fff" stroke="#000" stroke-width="1.4"/>
<circle cx="449.6" cy="430.8" r="3.6" fill="#fff" stroke="#000" stroke-width="1.4"/>
<circle cx="456.4" cy="430.8" r="3.6" fill="#fff" stroke="#000" stroke-width="1.4"/>
<circle cx="452.9" cy="434.6" r="3.6" fill="#fff" stroke="#000" stroke-width="1.4"/>
<circle cx="453.4" cy="425.8" r="3.6" fill="#fff" stroke="#000" stroke-width="1.4"/>
<rect x="491.25" y="269.75" width="7.5" height="7.5" fill="#000"/>
<rect x="491.05" y="316.05" width="7.5" height="7.5" fill="#000"/>
<rect x="501.85" y="333.65" width="7.5" height="7.5" fill="#000"/>
<rect x="480.25" y="338.25" width="7.5" height="7.5" fill="#000"/>
<rect x="491.05" y="343.15" width="7.5" height="7.5" fill="#000"/>
<rect x="491.05" y="358.05" width="7.5" height="7.5" fill="#000"/>
<rect x="491.05" y="374.35" width="7.5" height="7.5" fill="#000"/>
<rect x="480.25" y="386.55" width="7.5" height="7.5" fill="#000"/>
<rect x="491.05" y="393.25" width="7.5" height="7.5" fill="#000"/>
<rect x="501.85" y="392.45" width="7.5" height="7.5" fill="#000"/>
<line x1="477.5" y1="354.5" x2="512.1" y2="354.5" stroke="#000" stroke-width="1.5"/>
<text x="350.8" y="552.2" font-size="14" text-anchor="start" font-weight="normal" textLength="37.5" lengthAdjust="spacingAndGlyphs">CD80</text>
<text x="458" y="552.4" font-size="14" text-anchor="start" font-weight="normal" textLength="38.3" lengthAdjust="spacingAndGlyphs">CD86</text>
</svg></body></html>
